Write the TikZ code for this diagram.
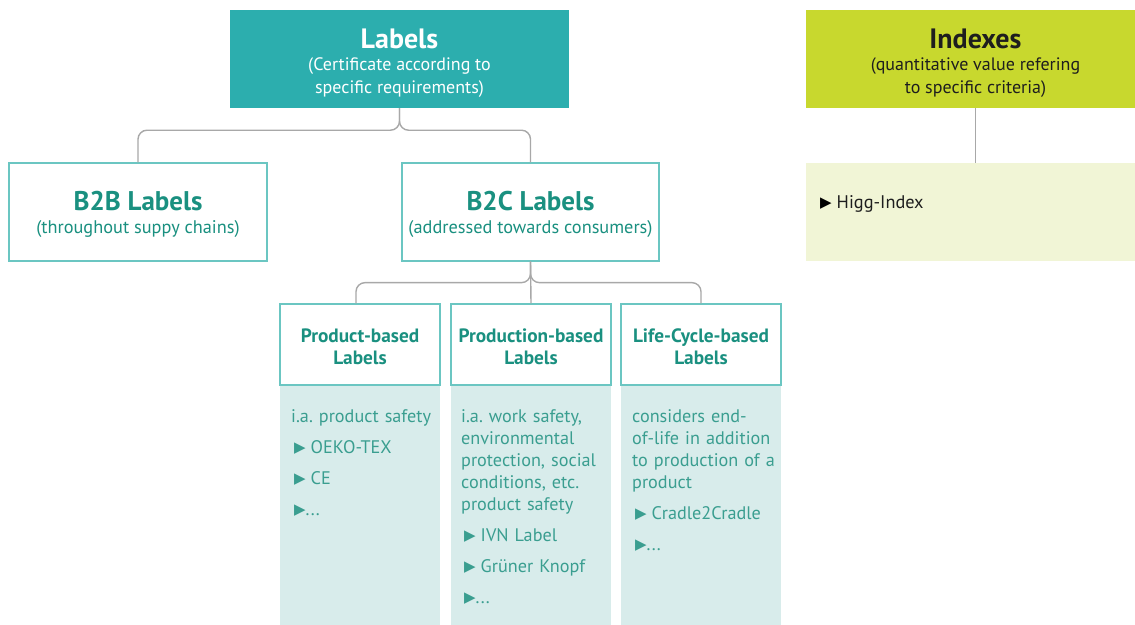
\documentclass[tikz,border=0pt]{standalone}
\usepackage{fontspec}
\setmainfont{PT Sans}
\newfontfamily\symf{DejaVu Sans}
\definecolor{hdrteal}{HTML}{2CAEAE}
\definecolor{bordteal}{HTML}{6BC6C2}
\definecolor{titleteal}{HTML}{1A9080}
\definecolor{ctext}{HTML}{3A9E90}
\definecolor{cfill}{HTML}{D8ECEB}
\definecolor{lime}{HTML}{C8D82E}
\definecolor{limelight}{HTML}{F1F5D6}
\definecolor{conngray}{HTML}{A8A8A8}
\definecolor{darktext}{HTML}{1E1E1E}
\newcommand\tri{\hspace{3pt}\raisebox{1pt}{\symf\fontsize{15}{12}\selectfont ▶}\hspace{5pt}}
\newcommand\trinosp{\hspace{3pt}\raisebox{1pt}{\symf\fontsize{15}{12}\selectfont ▶}}
\frenchspacing
\begin{document}
\begin{tikzpicture}[x=1pt,y=-1pt,
  hdrbox/.style={rectangle, inner sep=0pt, align=center, minimum width=339, minimum height=98,
    font=\fontsize{18}{23}\selectfont},
  wbox/.style={rectangle, draw=bordteal, line width=1.3pt, fill=white, inner sep=0pt, align=center,
    text=titleteal},
  catbox/.style={wbox, minimum width=160, minimum height=81, font=\fontsize{19.3}{22}\selectfont\bfseries},
  contbg/.style={rectangle, fill=cfill, inner sep=0pt, minimum width=160, minimum height=245, anchor=north},
  conttext/.style={text width=160, align=left, inner sep=0pt, anchor=base west, text=ctext,
    font=\fontsize{18.2}{22}\selectfont},
  conn/.style={draw=conngray, line width=1.4pt, rounded corners=9pt}
]
\useasboundingbox (0,0) rectangle (1135,624);

% content backgrounds
\node[contbg] (c1bg) at (360,385) {};
\node[contbg] (c2bg) at (531,385) {};
\node[contbg] (c3bg) at (701,385) {};

% boxes
\node[hdrbox, fill=hdrteal, text=white] (labels) at (399.5,59)
  {\rule{0pt}{28pt}{\fontsize{28}{28}\selectfont\bfseries Labels}\\[-1pt](Certificate according to\\specific requirements)};
\node[wbox, minimum width=258, minimum height=98, font=\fontsize{18.3}{23}\selectfont] (b2b) at (138,212)
  {\rule{0pt}{25pt}{\fontsize{27}{27}\selectfont\bfseries B2B Labels}\\(throughout suppy chains)};
\node[wbox, minimum width=257, minimum height=98, font=\fontsize{18.3}{23}\selectfont] (b2c) at (530.5,212)
  {\rule{0pt}{25pt}{\fontsize{27}{27}\selectfont\bfseries B2C Labels}\\(addressed towards consumers)};

\node[catbox] (p1) at (360,344.5) {\rule{0pt}{18pt}Product-based\\Labels};
\node[catbox] (p2) at (531,344.5) {\rule{0pt}{18pt}Production-based\\Labels};
\node[catbox] (p3) at (701,344.5) {\rule{0pt}{18pt}Life-Cycle-based\\Labels};

% connectors
\draw[conn] (labels.south) -- ++(0,22) -| (b2b.north);
\draw[conn] (labels.south) -- ++(0,22) -| (b2c.north);
\draw[conn] (b2c.south) -- ++(0,21) -| ([xshift=-4pt]p1.north);
\draw[conn] (b2c.south) -- ++(0,21) -| (p3.north);
\draw[conn] (b2c.south) -- (p2.north);

% content texts
\node[conttext] (t1) at (291,422.5)
  {i.a. product safety\\[9pt]\tri OEKO-TEX\\[9pt]\tri CE\\[9pt]\trinosp...};
\node[conttext] (t2) at (461,422.5)
  {i.a. work safety,\\environmental\\protection, social\\conditions, etc.\\product safety\\[9pt]\tri IVN Label\\[9pt]\tri Grüner Knopf\\[9pt]\trinosp...};
\node[conttext] (t3) at (632,422.5)
  {considers end-\\of-life in addition\\to production of a\\product\\[9pt]\tri Cradle2Cradle\\[9pt]\trinosp...};

% indexes
\node[hdrbox, fill=lime, text=darktext] (idx) at (975.5,59)
  {\rule{0pt}{28pt}{\fontsize{28}{28}\selectfont\bfseries Indexes}\\[-1pt](quantitative value refering\\to specific criteria)};
\node[rectangle, fill=limelight, inner sep=0pt, minimum width=339, minimum height=98] (idxc) at (975.5,212) {};
\draw[conn] (idx.south) -- (idxc.north);
\node[anchor=base west, inner sep=0pt, text=darktext, font=\fontsize{18.3}{22}\selectfont] (higg) at (817,208)
  {{\color{black}\tri}Higg-Index};
\end{tikzpicture}
\end{document}
